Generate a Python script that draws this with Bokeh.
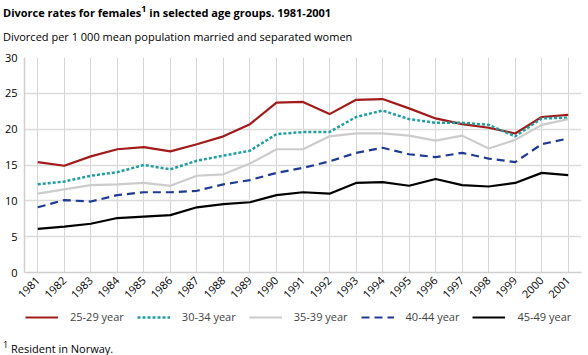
import math
from bokeh.plotting import figure
from bokeh.models import Legend, LegendItem, FixedTicker, Range1d, Div
from bokeh.layouts import column
from bokeh.embed import file_html
from bokeh.resources import INLINE

years = list(range(1981, 2002))
tick_labels = [str(y) for y in years]
series_names = ["25-29 year", "30-34 year", "35-39 year", "40-44 year", "45-49 year"]
age_25_29 = [15.4, 14.9, 16.2, 17.2, 17.5, 16.9, 17.9, 19.0, 20.7, 23.7, 23.8, 22.1, 24.1, 24.2, 22.9, 21.5, 20.7, 20.2, 19.4, 21.7, 22.0]
age_30_34 = [12.3, 12.7, 13.5, 14.0, 15.0, 14.4, 15.6, 16.3, 17.0, 19.3, 19.6, 19.6, 21.7, 22.6, 21.4, 20.9, 20.9, 20.6, 19.0, 21.5, 21.6]
age_35_39 = [11.0, 11.6, 12.2, 12.3, 12.5, 12.1, 13.5, 13.7, 15.2, 17.2, 17.2, 19.0, 19.4, 19.4, 19.1, 18.4, 19.1, 17.3, 18.5, 20.6, 21.4]
age_40_44 = [9.1, 10.1, 9.9, 10.8, 11.2, 11.2, 11.4, 12.3, 12.9, 13.9, 14.6, 15.5, 16.7, 17.4, 16.5, 16.1, 16.7, 15.9, 15.4, 17.9, 18.7]
age_45_49 = [6.1, 6.4, 6.8, 7.6, 7.8, 8.0, 9.1, 9.55, 9.8, 10.8, 11.2, 11.0, 12.5, 12.6, 12.1, 13.05, 12.2, 12.0, 12.5, 13.9, 13.6]
y_ticks = [0, 5, 10, 15, 20, 25, 30]
title_html = "Divorce rates for females<sup style='font-size:9px'>1</sup> in selected age groups. 1981-2001"
subtitle_text = "Divorced per 1 000 mean population married and separated women"
footnote_html = "<sup style='font-size:9px'>1</sup> Resident in Norway."

FONT = "Open Sans"
W = 588
TITLE_H, RULE1_H, SUB_H = 22, 2, 26
LEGEND_H, RULE2_H, FOOT_H = 23, 2, 20
MAIN_H = 355 - (TITLE_H + RULE1_H + SUB_H) - (LEGEND_H + RULE2_H + FOOT_H)
LEFT, RIGHT = 24, 7

styles = [
    dict(color="#a31a1a", dash="solid", width=2.2),
    dict(color="#1f9f9f", dash="3 2", width=2.5),
    dict(color="#cccccc", dash="solid", width=2.2),
    dict(color="#1f3a93", dash="8 5", width=2.2),
    dict(color="#000000", dash="solid", width=2.2),
]
data = [age_25_29, age_30_34, age_35_39, age_40_44, age_45_49]


def text_div(html, h, pad_top, bold=False):
    weight = "bold" if bold else "normal"
    return Div(width=W, height=h, margin=(0, 0, 0, 0), text=(
        f"<div style=\"font-family:'{FONT}';color:#000;font-size:11px;font-weight:{weight};"
        f"white-space:nowrap;line-height:15px;padding:{pad_top}px 0 0 3px;margin:0;\">{html}</div>"))


def rule_fig(h, color):
    f = figure(width=W, height=h, output_backend="svg", toolbar_location=None,
               min_border=0, x_axis_location=None, y_axis_location=None,
               x_range=Range1d(0, 1), y_range=Range1d(0, 1))
    f.grid.visible = False
    f.outline_line_color = None
    f.border_fill_color = color
    f.background_fill_color = color
    return f


title_div = text_div(title_html, TITLE_H, 1, bold=True)
rule1 = rule_fig(RULE1_H, "#2a9d9a")
sub_div = text_div(subtitle_text, SUB_H, 5)

# main chart
p = figure(width=W, height=MAIN_H, output_backend="svg", toolbar_location=None,
           x_range=(1980.5, 2001.5), y_range=(0, 30),
           min_border_left=LEFT, min_border_right=RIGHT, min_border_top=7, min_border_bottom=38)
p.outline_line_color = None
p.xaxis.ticker = FixedTicker(ticks=years)
p.xaxis.major_label_overrides = {y: s for y, s in zip(years, tick_labels)}
p.xaxis.major_label_orientation = math.pi / 4
p.yaxis.ticker = FixedTicker(ticks=y_ticks)
for ax in (p.xaxis, p.yaxis):
    ax.major_label_text_font = FONT
    ax.major_label_text_font_size = "11px"
    ax.major_label_text_color = "#000000"
    ax.axis_line_color = "#cfcfcf"
    ax.axis_line_width = 1.5
    ax.major_tick_line_color = None
    ax.minor_tick_line_color = None
    ax.major_tick_out = 0
    ax.major_tick_in = 0
p.xaxis.major_label_standoff = 6
p.yaxis.major_label_standoff = 7
p.xgrid.grid_line_color = "#d6d6d6"
p.ygrid.grid_line_color = "#dcdcdc"
p.ygrid.grid_line_width = 1.5

for vals, st in zip(data, styles):
    p.line(years, vals, line_color=st["color"], line_dash=st["dash"], line_width=st["width"])

# legend strip (series drawn outside its visible range; only the legend shows)
lf = figure(width=W, height=LEGEND_H, output_backend="svg", toolbar_location=None,
            x_range=Range1d(LEFT, W - RIGHT), y_range=Range1d(LEGEND_H, 0),
            min_border_left=LEFT, min_border_right=RIGHT, min_border_top=0, min_border_bottom=0,
            x_axis_location=None, y_axis_location=None)
lf.grid.visible = False
lf.outline_line_color = None
leg_renderers = [lf.line(years, vals, line_color=st["color"], line_dash=st["dash"],
                         line_width=st["width"]) for vals, st in zip(data, styles)]
legend = Legend(items=[LegendItem(label=n, renderers=[r]) for n, r in zip(series_names, leg_renderers)],
                orientation="horizontal", location=(25 - LEFT, 9), glyph_width=33, glyph_height=12,
                label_standoff=12, spacing=13, padding=0, margin=0,
                border_line_color=None, background_fill_alpha=0,
                label_text_font=FONT, label_text_font_size="11px")
lf.add_layout(legend, "center")

rule2 = rule_fig(RULE2_H, "#6cc4c4")
foot_div = text_div(footnote_html, FOOT_H, 2)

layout = column(title_div, rule1, sub_div, p, lf, rule2, foot_div, spacing=0)
open("out.html", "w").write(file_html(layout, INLINE))
